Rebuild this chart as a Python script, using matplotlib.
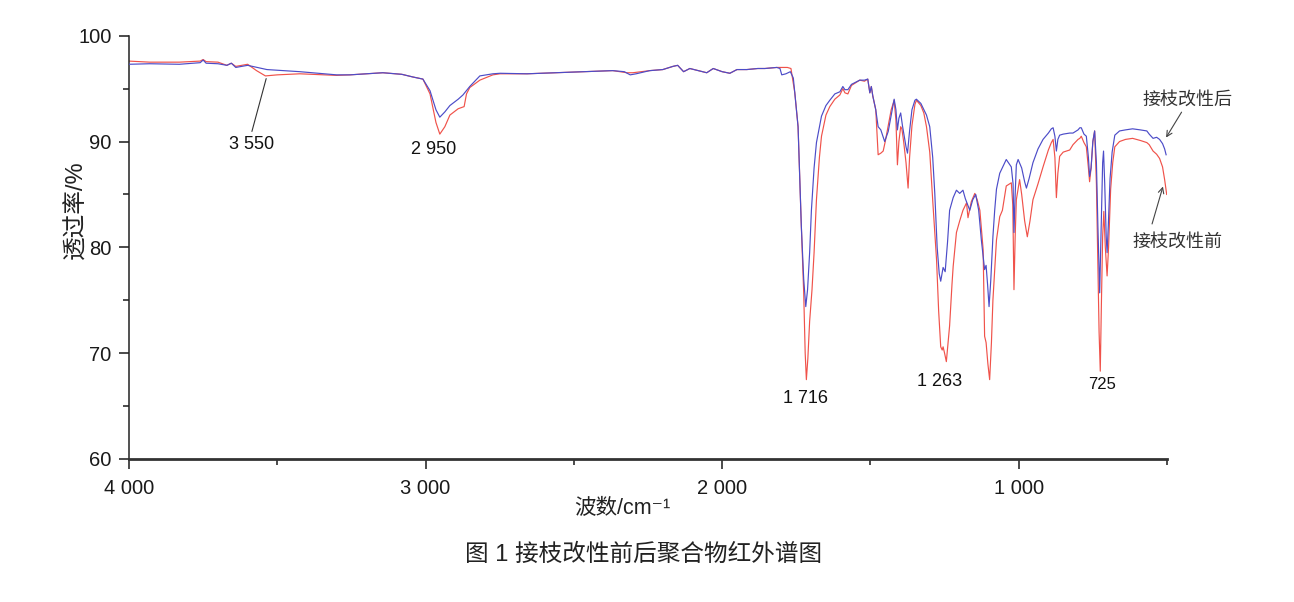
import matplotlib
matplotlib.use('Agg')
import matplotlib.pyplot as plt
from matplotlib.ticker import FixedLocator, MultipleLocator

# ---------------- data ----------------
# 接枝改性前 (red)
wn_before = [4000, 3930, 3830, 3760, 3750, 3740, 3700, 3670, 3655, 3640, 3600, 3570, 3540, 3500,
             3424, 3300, 3255, 3144, 3080, 3043, 3009, 2985, 2965, 2952, 2935, 2918, 2890, 2870,
             2862, 2851, 2817, 2773, 2749, 2658, 2513, 2369, 2321, 2301, 2244, 2200, 2166, 2150,
             2130, 2109, 2080, 2052, 2030, 2000, 1974, 1950, 1917, 1880, 1856, 1816, 1780, 1768,
             1755, 1744, 1733, 1725, 1720, 1716, 1711, 1705, 1697, 1690, 1682, 1672, 1665, 1650,
             1637, 1620, 1603, 1593, 1586, 1576, 1564, 1536, 1520, 1509, 1502, 1497, 1492, 1482,
             1474, 1465, 1457, 1450, 1440, 1430, 1420, 1414, 1409, 1404, 1398, 1394, 1388, 1380,
             1373, 1368, 1360, 1350, 1345, 1330, 1320, 1311, 1300, 1289, 1277, 1270, 1263, 1258,
             1255, 1250, 1244, 1238, 1233, 1225, 1221, 1210, 1199, 1188, 1176, 1171, 1160, 1148,
             1140, 1131, 1120, 1115, 1110, 1104, 1098, 1092, 1087, 1075, 1064, 1055, 1042, 1025,
             1020, 1016, 1012, 1008, 997, 990, 980, 971, 962, 952, 935, 918, 900, 890, 884, 878,
             873, 868, 862, 850, 828, 817, 800, 794, 789, 780, 772, 765, 761, 756, 750, 744, 738,
             733, 729, 725, 721, 717, 713, 708, 702, 697, 690, 683, 676, 660, 640, 616, 590, 568,
             560, 547, 535, 525, 515, 508, 501]
t_before = [97.6, 97.5, 97.5, 97.6, 97.75, 97.55, 97.5, 97.2, 97.4, 97.1, 97.3, 96.7, 96.2, 96.3,
            96.4, 96.25, 96.3, 96.5, 96.35, 96.1, 95.9, 94.5, 91.8, 90.7, 91.4, 92.5, 93.1, 93.3,
            94.5, 95.1, 95.8, 96.3, 96.4, 96.4, 96.55, 96.7, 96.5, 96.5, 96.7, 96.8, 97.1, 97.2,
            96.6, 96.9, 96.7, 96.5, 96.9, 96.6, 96.45, 96.8, 96.8, 96.9, 96.9, 97.0, 97.0, 96.9,
            94.6, 91.4, 82.0, 75.7, 70.0, 67.5, 69.5, 73.0, 76.0, 79.5, 84.5, 88.5, 90.5, 92.5,
            93.3, 94.0, 94.4, 95.0, 94.6, 94.5, 95.3, 95.8, 95.7, 95.9, 94.6, 95.2, 94.3, 93.0,
            88.75, 88.9, 89.1, 90.0, 91.5, 93.0, 93.9, 92.0, 87.8, 90.0, 91.4, 91.2, 90.0, 88.0,
            85.6, 88.5, 91.5, 93.5, 93.9, 93.4, 92.7, 91.4, 89.0, 84.0, 78.8, 74.0, 70.6, 70.3,
            70.6, 70.0, 69.2, 71.0, 72.6, 76.5, 78.2, 81.4, 82.5, 83.5, 84.2, 82.8, 84.3, 85.1,
            84.5, 83.5, 79.8, 71.6, 71.0, 69.0, 67.5, 71.0, 75.0, 80.7, 82.9, 83.5, 85.8, 86.1,
            84.0, 76.0, 81.0, 84.5, 86.4, 85.0, 82.5, 81.0, 82.5, 84.5, 86.0, 87.6, 89.2, 89.9,
            90.2, 88.5, 84.7, 87.0, 88.6, 89.0, 89.2, 89.7, 90.2, 90.3, 90.5, 89.9, 89.5, 87.5,
            86.2, 87.5, 90.0, 91.0, 86.0, 78.0, 72.0, 68.3, 75.0, 81.0, 83.4, 80.0, 77.3, 80.0,
            85.5, 88.0, 89.5, 90.0, 90.2, 90.3, 90.1, 89.9, 89.7, 89.1, 88.8, 88.4, 87.6, 86.4,
            85.0]

# 接枝改性后 (blue)
wn_after = [4000, 3930, 3830, 3760, 3750, 3740, 3700, 3670, 3655, 3640, 3600, 3535, 3424, 3300,
            3255, 3144, 3080, 3043, 3009, 2985, 2965, 2952, 2935, 2918, 2890, 2874, 2851, 2817,
            2773, 2749, 2658, 2513, 2369, 2330, 2310, 2290, 2244, 2200, 2166, 2150, 2130, 2109,
            2080, 2052, 2030, 2000, 1974, 1950, 1917, 1880, 1856, 1816, 1805, 1799, 1785, 1770,
            1760, 1755, 1744, 1733, 1725, 1718, 1712, 1705, 1699, 1690, 1682, 1665, 1650, 1637,
            1620, 1603, 1593, 1586, 1576, 1564, 1536, 1520, 1509, 1502, 1497, 1492, 1482, 1474,
            1465, 1452, 1440, 1430, 1420, 1414, 1409, 1404, 1398, 1392, 1380, 1375, 1368, 1360,
            1350, 1345, 1330, 1311, 1300, 1290, 1283, 1275, 1268, 1263, 1255, 1248, 1240, 1233,
            1221, 1210, 1199, 1188, 1180, 1165, 1155, 1145, 1135, 1126, 1115, 1110, 1105, 1100,
            1094, 1087, 1081, 1075, 1064, 1042, 1025, 1019, 1016, 1012, 1008, 1002, 990, 980,
            974, 965, 952, 935, 918, 900, 890, 884, 878, 873, 868, 862, 850, 828, 817, 800, 794,
            789, 780, 772, 765, 761, 756, 750, 744, 738, 733, 727, 722, 717, 714, 710, 705, 702,
            698, 692, 685, 676, 660, 640, 616, 590, 568, 560, 547, 535, 525, 515, 508, 503]
t_after = [97.3, 97.35, 97.3, 97.45, 97.7, 97.4, 97.35, 97.2, 97.4, 97.0, 97.2, 96.8, 96.6, 96.3,
           96.3, 96.5, 96.35, 96.1, 95.9, 94.8, 93.0, 92.3, 92.8, 93.4, 94.0, 94.4, 95.2, 96.2,
           96.4, 96.45, 96.4, 96.55, 96.7, 96.6, 96.3, 96.4, 96.7, 96.8, 97.1, 97.2, 96.6, 96.9,
           96.7, 96.5, 96.9, 96.6, 96.45, 96.8, 96.8, 96.9, 96.9, 97.0, 96.9, 96.3, 96.4, 96.6,
           96.0, 94.6, 91.4, 82.0, 77.0, 74.4, 76.0, 79.5, 83.5, 87.5, 89.9, 92.4, 93.4, 93.9,
           94.5, 94.7, 95.2, 94.9, 94.9, 95.4, 95.8, 95.8, 95.9, 94.6, 95.2, 94.3, 93.0, 91.4,
           91.1, 90.0, 90.95, 92.5, 94.0, 93.0, 91.1, 92.2, 92.7, 91.5, 89.5, 88.9, 91.0, 93.0,
           93.9, 94.0, 93.6, 92.5, 91.4, 88.5, 85.1, 80.0, 77.5, 76.8, 78.1, 77.7, 80.5, 83.5,
           84.7, 85.4, 85.1, 85.4, 84.6, 83.5, 84.5, 85.0, 83.5, 80.7, 77.9, 78.3, 76.5, 74.4,
           77.0, 81.0, 83.5, 85.5, 87.0, 88.3, 87.6, 86.0, 81.4, 85.0, 87.8, 88.3, 87.5, 86.2,
           85.6, 86.5, 88.0, 89.3, 90.2, 90.8, 91.2, 91.3, 90.5, 89.1, 90.2, 90.6, 90.7, 90.8,
           90.8, 91.1, 91.3, 91.3, 90.7, 90.5, 88.5, 86.7, 87.5, 90.0, 91.0, 88.0, 82.0, 75.7,
           82.0, 88.0, 89.1, 86.0, 81.0, 79.5, 82.0, 86.5, 89.0, 90.6, 91.0, 91.1, 91.2, 91.1,
           91.0, 90.7, 90.3, 90.4, 90.2, 89.8, 89.3, 88.75]

x_ticks = [4000, 3000, 2000, 1000]
x_tick_labels = ['4 000', '3 000', '2 000', '1 000']
y_ticks = [60, 70, 80, 90, 100]
y_tick_labels = ['60', '70', '80', '90', '100']

peak_labels = ['3 550', '2 950', '1 716', '1 263', '725']
peak_label_x = [3586, 2972, 1718, 1266, 720]
peak_label_y = [89.7, 89.2, 65.75, 67.3, 67.0]

series_names = ['接枝改性后', '接枝改性前']
x_label = '波数/cm⁻¹'
y_label = '透过率/%'
caption = '图 1 接枝改性前后聚合物红外谱图'

# ---------------- figure ----------------
plt.rcParams['font.family'] = ['Liberation Sans', 'Noto Sans CJK SC', 'DejaVu Sans']

W, H = 1294, 602
fig = plt.figure(figsize=(W / 100, H / 100), dpi=100)
ax = fig.add_axes([129 / W, 1 - 459 / H, (1167 - 129) / W, (459 - 35.7) / H])

red = '#f0524a'
blue = '#4c4cc8'
ax.plot(wn_before, t_before, color=red, lw=0.85, zorder=2)
ax.plot(wn_after, t_after, color=blue, lw=0.85, zorder=3)

ax.set_xlim(4000, 500)
ax.set_ylim(60, 100)

for s in ['top', 'right']:
    ax.spines[s].set_visible(False)
ax.spines['left'].set_linewidth(1.1)
ax.spines['bottom'].set_linewidth(2.0)
ax.spines['left'].set_color('#222222')
ax.spines['bottom'].set_color('#333333')

ax.xaxis.set_major_locator(FixedLocator(x_ticks))
ax.set_xticklabels(x_tick_labels)
ax.xaxis.set_minor_locator(MultipleLocator(500))
ax.yaxis.set_major_locator(FixedLocator(y_ticks))
ax.set_yticklabels(y_tick_labels)
ax.yaxis.set_minor_locator(MultipleLocator(5))

ax.tick_params(axis='both', which='major', direction='out', length=7.5, width=1.1,
               labelsize=14.5, colors='#1a1a1a')
ax.tick_params(axis='both', which='minor', direction='out', length=4, width=1.1, colors='#1a1a1a')
ax.tick_params(axis='x', which='major', pad=7)
ax.tick_params(axis='y', which='major', pad=5)

ax.set_xlabel(x_label, fontsize=15.5, color='#222222')
ax.xaxis.set_label_coords((622 - 129) / 1038, (459 - 498) / 423.3)
ax.set_ylabel(y_label, fontsize=17, color='#222222')
ax.yaxis.set_label_coords((87 - 129) / 1038, (459 - 210) / 423.3)

# peak labels
for lab, px, py in zip(peak_labels, peak_label_x, peak_label_y):
    ax.text(px, py, lab, ha='center', va='center', fontsize=13 if lab != '725' else 12,
            color='#111111')

# leader line for 3 550
ax.annotate('', xy=(3535, 96.2), xytext=(3588, 90.7),
            arrowprops=dict(arrowstyle='-', color='#333333', lw=0.8))

# series labels with arrows
ax.text(432, 93.9, series_names[0], ha='center', va='center', fontsize=13, color='#333333',
        clip_on=False)
ax.annotate('', xy=(508, 90.15), xytext=(446, 93.0),
            arrowprops=dict(arrowstyle='->', color='#444444', lw=0.8), annotation_clip=False)
ax.text(464, 80.5, series_names[1], ha='center', va='center', fontsize=13, color='#333333',
        clip_on=False)
ax.annotate('', xy=(511, 86.0), xytext=(553, 81.96),
            arrowprops=dict(arrowstyle='->', color='#444444', lw=0.8), annotation_clip=False)

fig.text(0.497, 1 - 555 / H, caption, ha='center', va='center', fontsize=17, color='#222222')

fig.savefig('out.png', dpi=100)
